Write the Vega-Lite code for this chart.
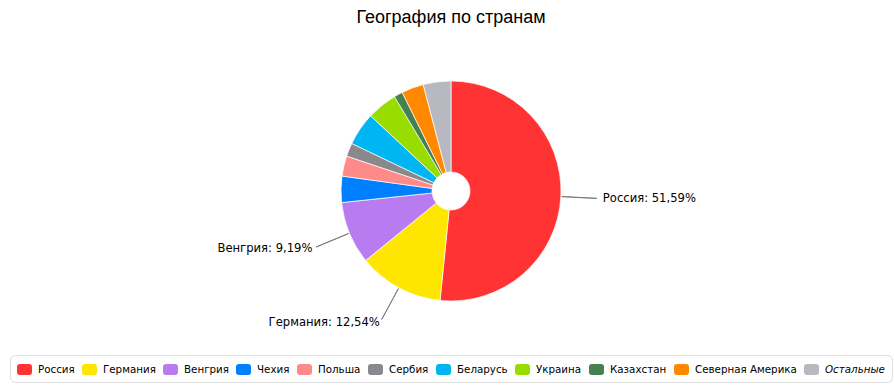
{
  "$schema": "https://vega.github.io/schema/vega-lite/v6.json",
  "autosize": {"type": "none"},
  "width": 886,
  "height": 300,
  "padding": {"left": 8, "top": 41, "right": 0, "bottom": 48},
  "background": "#ffffff",
  "title": {
    "text": "География по странам",
    "font": "Liberation Sans",
    "fontSize": 18,
    "fontWeight": "normal",
    "color": "#000000",
    "anchor": "middle",
    "offset": 14
  },
  "data": {
    "values": [
      {"country": "Россия", "value": 51.59, "order": 1},
      {"country": "Германия", "value": 12.54, "order": 2},
      {"country": "Венгрия", "value": 9.19, "order": 3},
      {"country": "Чехия", "value": 3.85, "order": 4},
      {"country": "Польша", "value": 2.97, "order": 5},
      {"country": "Сербия", "value": 1.97, "order": 6},
      {"country": "Беларусь", "value": 4.86, "order": 7},
      {"country": "Украина", "value": 4.44, "order": 8},
      {"country": "Казахстан", "value": 1.28, "order": 9},
      {"country": "Северная Америка", "value": 3.25, "order": 10},
      {"country": "Остальные", "value": 4.06, "order": 11}
    ]
  },
  "transform": [
    {"stack": "value", "groupby": [], "sort": [{"field": "order", "order": "ascending"}], "as": ["v0", "v1"]},
    {"calculate": "(datum.v0 + datum.v1) / 2", "as": "mid"},
    {"calculate": "(datum.v0 + datum.v1) / 2 + 0.02", "as": "mid2"},
    {"calculate": "datum.country + ': ' + replace(format(datum.value, '.2f'), '.', ',') + '%'", "as": "label"}
  ],
  "layer": [
    {
      "mark": {"type": "arc", "outerRadius": 110, "innerRadius": 19, "stroke": "#ffffff", "strokeWidth": 0.7},
      "encoding": {
        "theta": {"field": "v0", "type": "quantitative", "scale": {"domain": [0, 100]}},
        "theta2": {"field": "v1"},
        "color": {
          "field": "country",
          "type": "nominal",
          "scale": {
            "domain": ["Россия", "Германия", "Венгрия", "Чехия", "Польша", "Сербия", "Беларусь", "Украина", "Казахстан", "Северная Америка", "Остальные"],
            "range": ["#FF3333", "#FFE600", "#B97CF0", "#0080FF", "#FF8A8A", "#88888D", "#00B6F2", "#99DD00", "#467F50", "#FF8800", "#B8B8C0"]
          },
          "legend": {
            "title": null,
            "orient": "none",
            "legendX": 2,
            "legendY": 314,
            "direction": "horizontal",
            "padding": 7,
            "fillColor": "#ffffff",
            "strokeColor": "#dddddd",
            "cornerRadius": 5,
            "symbolType": "M -0.6 -0.733 L 0.6 -0.733 Q 1 -0.733 1 -0.333 L 1 0.333 Q 1 0.733 0.6 0.733 L -0.6 0.733 Q -1 0.733 -1 0.333 L -1 -0.333 Q -1 -0.733 -0.6 -0.733 Z",
            "symbolSize": 225,
            "symbolStrokeWidth": 0,
            "symbolOpacity": 1,
            "labelFont": "DejaVu Sans",
            "labelFontSize": 10.3,
            "labelColor": "#000000",
            "labelOffset": 6,
            "labelLimit": 300,
            "columnPadding": 7,
            "labelFontStyle": {"expr": "datum.label == 'Остальные' ? 'italic' : 'normal'"}
          }
        },
        "order": {"field": "order", "type": "quantitative"}
      }
    },
    {
      "transform": [{"filter": "datum.value > 5"}],
      "mark": {"type": "arc", "outerRadius": 146, "innerRadius": 111, "fillOpacity": 0, "stroke": "#777777", "strokeWidth": 0.9},
      "encoding": {
        "theta": {"field": "mid", "type": "quantitative", "scale": {"domain": [0, 100]}},
        "theta2": {"field": "mid2"}
      }
    },
    {
      "transform": [{"filter": "datum.value > 5 && datum.mid < 50"}],
      "mark": {"type": "text", "radius": 152, "align": "left", "baseline": "middle", "font": "DejaVu Sans", "fontSize": 11.6, "color": "#000000"},
      "encoding": {
        "theta": {"field": "mid", "type": "quantitative", "scale": {"domain": [0, 100]}},
        "text": {"field": "label"}
      }
    },
    {
      "transform": [{"filter": "datum.value > 5 && datum.mid >= 50"}],
      "mark": {"type": "text", "radius": 150, "align": "right", "baseline": "middle", "font": "DejaVu Sans", "fontSize": 11.6, "color": "#000000"},
      "encoding": {
        "theta": {"field": "mid", "type": "quantitative", "scale": {"domain": [0, 100]}},
        "text": {"field": "label"}
      }
    }
  ],
  "config": {"view": {"stroke": null}}
}
